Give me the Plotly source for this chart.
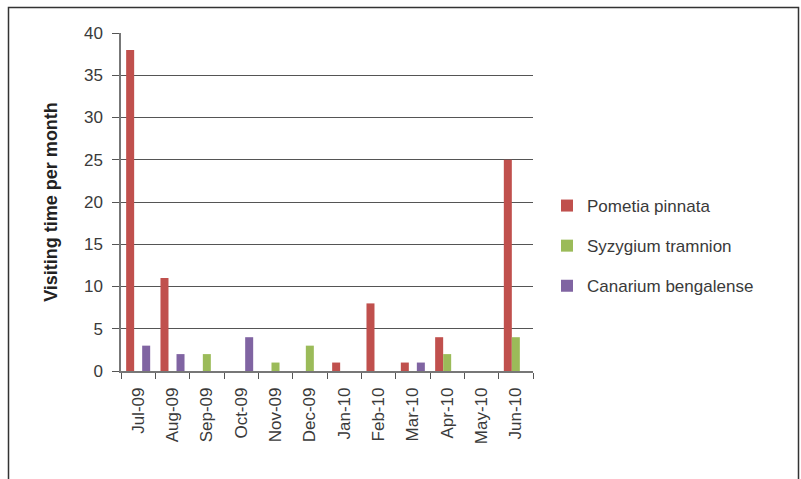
import plotly.graph_objects as go

months = ["Jul-09", "Aug-09", "Sep-09", "Oct-09", "Nov-09", "Dec-09",
          "Jan-10", "Feb-10", "Mar-10", "Apr-10", "May-10", "Jun-10"]
pometia = [38, 11, 0, 0, 0, 0, 1, 8, 1, 4, 0, 25]
syzygium = [0, 0, 2, 0, 1, 3, 0, 0, 0, 2, 0, 4]
canarium = [3, 2, 0, 4, 0, 0, 0, 0, 1, 0, 0, 0]

series = [("Pometia pinnata", pometia, "#C0504D"),
          ("Syzygium tramnion", syzygium, "#9BBB59"),
          ("Canarium bengalense", canarium, "#8064A2")]

fig = go.Figure()
for i, (name, vals, col) in enumerate(series):
    fig.add_trace(go.Bar(x=months, y=vals, name=name, marker_color=col,
                         marker_line_width=0, legendgroup=f"g{i}"))

L, R, T, B = 121, 268, 33, 108
W, H = 801, 479
pw, ph = W - L - R, H - T - B

def px(x):
    return (x - L) / pw

def py(y):
    return (H - B - y) / ph

fig.add_shape(type="rect", xref="paper", yref="paper",
              x0=px(8.5), x1=px(798.5), y0=py(490), y1=py(7.5),
              line=dict(color="#333333", width=1.5), layer="below")

fig.update_layout(
    width=W, height=H,
    margin=dict(l=L, r=R, t=T, b=B),
    paper_bgcolor="white", plot_bgcolor="white",
    barmode="group", bargap=0.3, bargroupgap=0,
    font=dict(family="Liberation Sans, Arial, sans-serif", size=17, color="#3a3a3a"),
    showlegend=True,
    legend=dict(x=px(547), y=py(188), xanchor="left", yanchor="top",
                font=dict(size=17, color="#3a3a3a"), tracegroupgap=15,
                traceorder="grouped",
                itemwidth=30, bgcolor="rgba(0,0,0,0)"),
    xaxis=dict(type="category", tickangle=-90, showgrid=False,
               ticks="outside", ticklen=6, tickcolor="#555555",
               showline=True, linecolor="#777777", linewidth=1.5,
               tickson="boundaries", tickfont=dict(size=17),
               ticklabelstandoff=8),
    yaxis=dict(range=[0, 40], dtick=5, showgrid=True, gridcolor="#555555",
               gridwidth=1, ticks="outside", ticklen=7, tickcolor="#555555",
               showline=True, linecolor="#777777", linewidth=1.5,
               zeroline=False, tickfont=dict(size=17),
               ticklabelstandoff=6,
               title=dict(text="<b>Visiting time per month</b>",
                          font=dict(size=18, color="#222222"), standoff=22)),
)

fig.write_html("out.html")
